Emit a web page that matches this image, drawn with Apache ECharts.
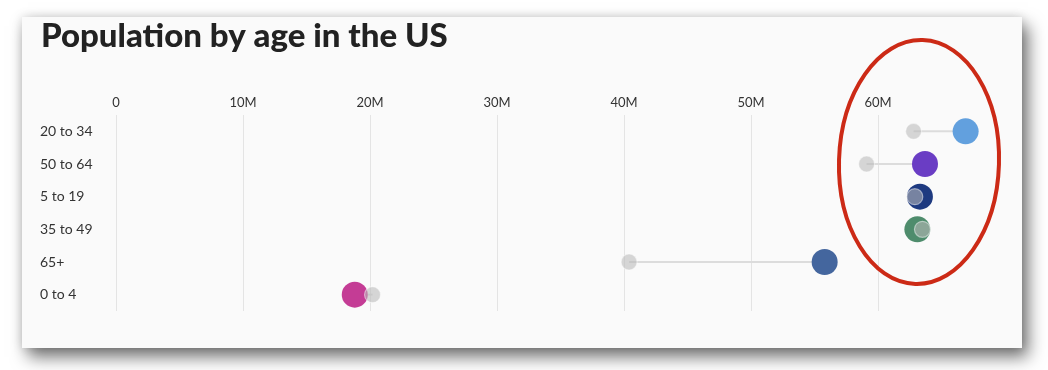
<!DOCTYPE html>
<html>
<head>
<meta charset="utf-8">
<script src="https://cdn.jsdelivr.net/npm/echarts@6/dist/echarts.min.js"></script>
<style>
  html, body { margin: 0; padding: 0; background: #ffffff; width: 1048px; height: 370px; overflow: hidden; }
  #card { position: absolute; left: 22px; top: 17px; width: 1000px; height: 331px; background: #fafafa;
          box-shadow: 6px 9px 16px rgba(0,0,0,0.55), 0 0 10px rgba(0,0,0,0.14); }
  #chart { position: absolute; left: 0; top: 0; width: 1048px; height: 370px; }
</style>
</head>
<body>
<div id="card"></div>
<div id="chart"></div>
<script>
// Categories (top to bottom)
const categories = ['20 to 34', '50 to 64', '5 to 19', '35 to 49', '65+', '0 to 4'];
// Earlier population (gray dots), millions
const earlierValues = [62.8, 59.1, 62.9, 63.5, 40.4, 20.2];
// Later population (coloured dots), millions
const laterValues = [66.9, 63.7, 63.3, 63.1, 55.8, 18.8];
// Dot colours per category
const dotColors = ['#62a0de', '#6a3dc4', '#1e3a80', '#4e8c6c', '#44669e', '#c43c95'];
// Tick labels
const tickValues = [0, 10, 20, 30, 40, 50, 60];
const tickLabels = ['0', '10M', '20M', '30M', '40M', '50M', '60M'];

const chart = echarts.init(document.getElementById('chart'), null, { renderer: 'canvas' });
const font = 'Lato, "Noto Sans", sans-serif';

const lineData = categories.map((c, i) => [earlierValues[i], laterValues[i], i]);

chart.setOption({
  animation: false,
  backgroundColor: 'transparent',
  title: {
    text: 'Population by age in the US',
    left: 36, top: 15,
    textStyle: { fontFamily: font, fontWeight: 900, fontSize: 33, color: '#222222' }
  },
  grid: { left: 116, right: 43, top: 115, bottom: 59 },
  xAxis: {
    type: 'value', position: 'top', min: 0, max: 70, interval: 10,
    axisLine: { show: false }, axisTick: { show: false },
    axisLabel: {
      showMaxLabel: false, margin: 6, color: '#333333', fontFamily: font, fontSize: 13,
      formatter: v => { const k = tickValues.indexOf(v); return k >= 0 ? tickLabels[k] : ''; }
    },
    splitLine: { show: true, showMaxLine: false, lineStyle: { color: '#e4e4e4', width: 1 } }
  },
  yAxis: {
    type: 'category', data: categories, inverse: true,
    axisLine: { show: false }, axisTick: { show: false },
    axisLabel: { align: 'left', margin: 76, color: '#333333', fontFamily: font, fontSize: 14 },
    splitLine: { show: false }
  },
  graphic: [{
    type: 'ellipse', z: 100,
    shape: { cx: 0, cy: 0, rx: 80, ry: 122 },
    x: 919, y: 162, rotation: -0.03,
    style: { fill: 'none', stroke: '#cc2a16', lineWidth: 4 }
  }],
  series: [
    {
      type: 'custom', z: 1,
      renderItem: (params, api) => {
        const p1 = api.coord([api.value(0), api.value(2)]);
        const p2 = api.coord([api.value(1), api.value(2)]);
        return { type: 'line', shape: { x1: p1[0], y1: p1[1], x2: p2[0], y2: p2[1] },
                 style: { stroke: '#dcdcdc', lineWidth: 2 } };
      },
      data: lineData, encode: { x: [0, 1], y: 2 }
    },
    {
      type: 'scatter', z: 2, symbolSize: 26,
      data: laterValues.map((v, i) => ({ value: [v, i], itemStyle: { color: dotColors[i] } })),
      itemStyle: { opacity: 1 }
    },
    {
      type: 'scatter', z: 3, symbolSize: 16,
      data: earlierValues.map((v, i) => [v, i]),
      itemStyle: { color: 'rgba(185,185,185,0.72)', borderColor: 'rgba(255,255,255,0.6)', borderWidth: 1.2 }
    }
  ]
});
</script>
</body>
</html>
